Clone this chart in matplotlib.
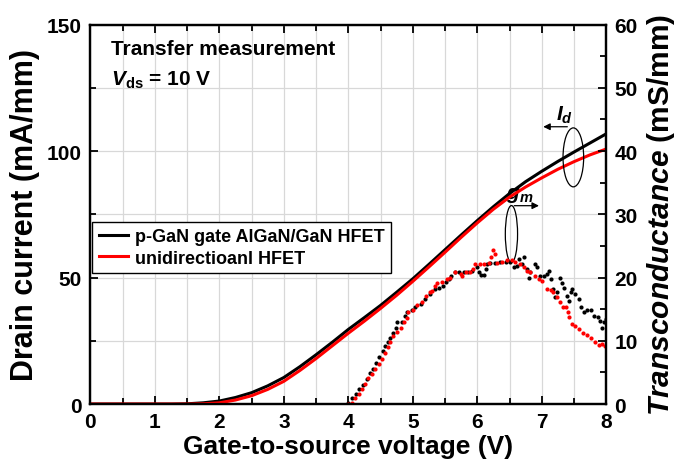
import numpy as np
import matplotlib
matplotlib.use("Agg")
import matplotlib.pyplot as plt
from matplotlib.patches import Ellipse
from matplotlib.ticker import MultipleLocator

# ----------------------------------------------------------------------
# ## Data
# ----------------------------------------------------------------------

# drain current, 0.25 V steps
vgs = [0.0, 0.25, 0.5, 0.75, 1.0, 1.25, 1.5, 1.75, 2.0, 2.25, 2.5, 2.75, 3.0,
       3.25, 3.5, 3.75, 4.0, 4.25, 4.5, 4.75, 5.0, 5.25, 5.5, 5.75, 6.0,
       6.25, 6.5, 6.75, 7.0, 7.25, 7.5, 7.75, 8.0]
id_pgan = [0, 0, 0, 0, 0, 0, 0.1, 0.5, 1.2, 2.6, 4.5, 7.2, 10.5,
           14.8, 19.5, 24.4, 29.5, 34.2, 39.0, 44.2, 49.5, 55.2, 61.0, 66.8, 72.5,
           78.0, 83.2, 87.9, 92.0, 95.9, 99.6, 103.2, 106.8]
id_uni = [0, 0, 0, 0, 0, 0, 0, 0.1, 0.5, 1.6, 3.3, 5.8, 9.0,
          13.3, 18.0, 23.0, 28.0, 32.8, 37.8, 43.0, 48.5, 54.2, 60.0, 65.9, 71.6,
          77.0, 81.8, 85.8, 89.4, 92.8, 95.8, 98.5, 100.8]

# transconductance (off-state part is flat zero)
vgs_off = np.arange(0.0, 4.0, 0.05)
gm_off = np.zeros(len(vgs_off))

gm_pgan_v = [4.00, 4.06, 4.12, 4.17, 4.23, 4.29, 4.34, 4.38, 4.43, 4.48, 4.54, 4.57,
             4.62, 4.65, 4.70, 4.74, 4.76, 4.83, 4.88, 4.91, 4.99, 5.04, 5.12, 5.19,
             5.27, 5.35, 5.40, 5.47, 5.52, 5.56, 5.59, 5.66, 5.71, 5.79, 5.85, 5.92,
             6.00, 6.02, 6.06, 6.10, 6.13, 6.15, 6.20, 6.28, 6.36, 6.44, 6.51, 6.57,
             6.61, 6.64, 6.70, 6.73, 6.77, 6.80, 6.82, 6.89, 6.93, 6.97, 7.03, 7.08,
             7.12, 7.15, 7.18, 7.21, 7.24, 7.28, 7.32, 7.35, 7.39, 7.42, 7.45, 7.47,
             7.52, 7.57, 7.61, 7.65, 7.70, 7.76, 7.81, 7.87, 7.91, 7.94, 7.97, 8.00]
gm_pgan = [0.1, 0.9, 1.6, 2.4, 3.0, 4.0, 4.9, 5.6, 6.5, 7.5, 8.4, 9.2,
           9.75, 10.4, 11.3, 12.0, 12.9, 12.9, 13.9, 14.5, 14.9, 15.3, 15.8, 16.6,
           17.4, 18.2, 18.4, 18.7, 19.3, 19.8, 20.3, 20.8, 20.8, 20.9, 20.9, 21.1,
           21.6, 20.8, 20.4, 20.4, 21.3, 22.1, 22.3, 22.3, 22.4, 22.5, 22.5, 21.6,
           21.9, 22.9, 22.1, 23.2, 21.3, 20.0, 20.8, 22.1, 21.6, 20.2, 20.2, 20.55,
           21.1, 19.8, 18.2, 16.9, 17.7, 19.9, 19.2, 18.4, 17.1, 16.3, 17.7, 18.2,
           17.4, 16.6, 15.3, 14.5, 14.9, 14.9, 14.0, 13.7, 13.2, 12.1, 12.9, 13.4]

gm_uni_v = [4.00, 4.06, 4.11, 4.16, 4.21, 4.26, 4.31, 4.37, 4.42, 4.47, 4.52, 4.57,
            4.62, 4.65, 4.69, 4.75, 4.81, 4.86, 4.91, 4.93, 5.01, 5.07, 5.14, 5.21,
            5.27, 5.30, 5.35, 5.38, 5.45, 5.53, 5.58, 5.66, 5.74, 5.76, 5.82, 5.89,
            5.94, 5.97, 6.05, 6.11, 6.18, 6.22, 6.25, 6.27, 6.31, 6.38, 6.46, 6.54,
            6.59, 6.66, 6.72, 6.77, 6.82, 6.90, 6.95, 7.01, 7.08, 7.14, 7.18, 7.24,
            7.29, 7.33, 7.38, 7.40, 7.43, 7.47, 7.52, 7.57, 7.64, 7.70, 7.77, 7.82,
            7.89, 7.94, 7.98]
gm_uni = [0.0, 0.16, 0.9, 1.6, 2.4, 3.2, 4.1, 4.7, 5.6, 6.3, 7.1, 8.1,
          9.0, 9.75, 10.7, 11.4, 12.1, 12.9, 13.6, 14.5, 14.9, 15.65, 16.1, 17.1,
          17.75, 17.9, 18.7, 19.1, 19.3, 19.8, 20.0, 20.8, 20.6, 20.2, 20.9, 20.9,
          21.3, 22.1, 22.1, 22.1, 22.3, 23.3, 24.4, 23.7, 22.3, 22.5, 22.7, 22.7,
          22.4, 22.1, 21.6, 21.1, 20.8, 20.3, 19.8, 19.5, 18.2, 18.1, 17.7, 16.9,
          16.2, 15.3, 15.3, 14.5, 13.7, 12.6, 12.3, 11.9, 11.2, 10.9, 10.4, 9.75,
          9.3, 9.5, 9.2]

labels = ['p-GaN gate AlGaN/GaN HFET', 'unidirectioanl HFET']

# ----------------------------------------------------------------------
# ## Style
# ----------------------------------------------------------------------

plt.rcParams['font.family'] = ['Liberation Sans', 'DejaVu Sans']
plt.rcParams['font.weight'] = 'bold'
plt.rcParams['mathtext.fontset'] = 'custom'
plt.rcParams['mathtext.rm'] = 'Liberation Sans:bold'
plt.rcParams['mathtext.it'] = 'Liberation Sans:italic'
plt.rcParams['mathtext.bf'] = 'Liberation Sans:bold'
plt.rcParams['mathtext.bfit'] = 'Liberation Sans:italic:bold'

fig = plt.figure(figsize=(6.85, 4.64), dpi=100)
ax = fig.add_axes([0.132, 0.127, 0.753, 0.818])
ax2 = ax.twinx()

# ----------------------------------------------------------------------
# ## Curves
# ----------------------------------------------------------------------

ax.plot(vgs, id_pgan, color='black', lw=2.2, label=labels[0], zorder=3)
ax.plot(vgs, id_uni, color='#ff0000', lw=2.2, label=labels[1], zorder=4)

ax2.plot(vgs_off, gm_off, ls='none', marker='s', ms=2.0, mew=0, color='black')
ax2.plot(vgs_off + 0.025, gm_off, ls='none', marker='s', ms=2.0, mew=0, color='#ff0000')
ax2.plot(gm_pgan_v, gm_pgan, ls='none', marker='o', ms=3.0, mew=0, color='black')
ax2.plot(gm_uni_v, gm_uni, ls='none', marker='o', ms=3.0, mew=0, color='#ff0000')

# ----------------------------------------------------------------------
# ## Axes
# ----------------------------------------------------------------------

ax.set_xlim(0, 8)
ax.set_ylim(0, 150)
ax2.set_ylim(0, 60)

ax.xaxis.set_major_locator(MultipleLocator(1))
ax.xaxis.set_minor_locator(MultipleLocator(0.5))
ax.yaxis.set_major_locator(MultipleLocator(50))
ax.yaxis.set_minor_locator(MultipleLocator(25))
ax2.yaxis.set_major_locator(MultipleLocator(10))
ax2.yaxis.set_minor_locator(MultipleLocator(5))

ax.grid(True, which='both', color='#d8d8d8', lw=0.9, zorder=0)
ax.set_axisbelow(True)

for a in (ax, ax2):
    for s in a.spines.values():
        s.set_linewidth(1.6)
ax.tick_params(which='both', direction='in', top=True, width=1.3, labelsize=15)
ax.tick_params(which='major', length=6, pad=6)
ax.tick_params(which='minor', length=4)
ax2.tick_params(which='both', direction='in', width=1.3, labelsize=15)
ax2.tick_params(which='major', length=6, pad=6)
ax2.tick_params(which='minor', length=4)

ax.set_xlabel('Gate-to-source voltage (V)', fontsize=19, fontweight='bold', labelpad=2)
ax.set_ylabel('Drain current (mA/mm)', fontsize=22, fontweight='bold', labelpad=5)
ax2.set_ylabel(r'$\mathbfit{Transconductance}$ (mS/mm)', fontsize=21.5,
               fontweight='bold', labelpad=5)

# ----------------------------------------------------------------------
# ## Annotations
# ----------------------------------------------------------------------

ax.text(0.32, 140.5, 'Transfer measurement', fontsize=15, fontweight='bold', va='center')
ax.text(0.32, 128.5, r'$\mathbfit{V}_{\mathbf{ds}}$ = 10 V', fontsize=15,
        fontweight='bold', va='center')

ax.add_patch(Ellipse((7.49, 97.5), 0.32, 23.3, fill=False, ec='black', lw=0.9, zorder=5))
ax.annotate('', xy=(6.98, 109.6), xytext=(7.44, 109.6),
            arrowprops=dict(arrowstyle='-|>', color='black', lw=0.9,
                            mutation_scale=10))
ax.text(7.22, 112.5, r'$\mathbfit{I}_{\mathit{d}}$', fontsize=15)

ax.add_patch(Ellipse((6.53, 67.2), 0.19, 22.5, fill=False, ec='black', lw=0.9, zorder=5))
ax.annotate('', xy=(7.0, 78.4), xytext=(6.53, 78.4),
            arrowprops=dict(arrowstyle='-|>', color='black', lw=0.9,
                            mutation_scale=10))
ax.text(6.45, 81.5, r'$\mathbfit{g}_{\mathit{m}}$', fontsize=15)

leg = ax.legend(loc='upper left', bbox_to_anchor=(0.004, 0.48), fontsize=13,
                frameon=True, fancybox=False, edgecolor='black', framealpha=1,
                handlelength=1.6, handletextpad=0.4, borderpad=0.35,
                labelspacing=0.25, borderaxespad=0)
leg.get_frame().set_linewidth(1.0)
leg.set_zorder(10)

plt.savefig('out.png', dpi=100)
